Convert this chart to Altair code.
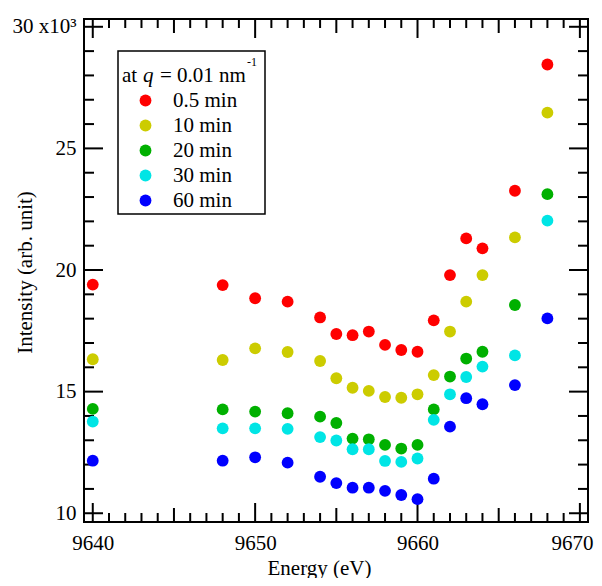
import altair as alt
import pandas as pd

# ---- data (intensity in units of 10^3) ----
energy = [9640, 9648, 9650, 9652, 9654, 9655, 9656, 9657, 9658, 9659, 9660,
          9661, 9662, 9663, 9664, 9666, 9668]
t_05 = [19.40, 19.38, 18.84, 18.70, 18.05, 17.37, 17.32, 17.47, 16.92, 16.71, 16.64,
        17.93, 19.79, 21.30, 20.89, 23.26, 28.45]
t_10 = [16.33, 16.30, 16.78, 16.63, 16.26, 15.55, 15.16, 15.03, 14.78, 14.75, 14.89,
        15.68, 17.47, 18.70, 19.79, 21.34, 26.47]
t_20 = [14.29, 14.27, 14.18, 14.11, 13.97, 13.71, 13.07, 13.04, 12.81, 12.66, 12.81,
        14.27, 15.62, 16.36, 16.64, 18.56, 23.12]
t_30 = [13.77, 13.49, 13.49, 13.47, 13.13, 12.99, 12.63, 12.63, 12.15, 12.11, 12.25,
        13.84, 14.89, 15.60, 16.03, 16.49, 22.03]
t_60 = [12.16, 12.16, 12.30, 12.08, 11.50, 11.24, 11.05, 11.05, 10.92, 10.75, 10.58,
        11.42, 13.56, 14.73, 14.48, 15.27, 18.01]

series_names = ["0.5 min", "10 min", "20 min", "30 min", "60 min"]
series_colors = ["#ff0000", "#cccc00", "#00b000", "#00e5e5", "#0000ff"]
series_values = [t_05, t_10, t_20, t_30, t_60]

x_major = [9640, 9650, 9660, 9670]
x_mid = [9645, 9655, 9665]
x_minor = [v for v in range(9641, 9670) if v % 5 != 0]
y_major = [10, 15, 20, 25, 30]
y_minor = [v for v in range(11, 30) if v % 5 != 0]

rows = []
for i, (name, vals) in enumerate(zip(series_names, series_values)):
    for e, v in zip(energy, vals):
        rows.append({"energy": e, "intensity": v, "series": name, "k": i})
df = pd.DataFrame(rows)

FONT = "Liberation Serif"
W, H = 504, 503

xscale = alt.Scale(domain=[9639.46, 9670.5], nice=False, zero=False)
yscale = alt.Scale(domain=[9.64, 30.32], nice=False, zero=False)

xaxis = alt.Axis(values=x_major, ticks=False, domain=False, grid=False,
                 labelFont=FONT, labelFontSize=21, labelFontWeight="normal",
                 labelColor="black", labelPadding=10,
                 labelOffset={"condition": {"test": "datum.value == 9670", "value": -8},
                              "value": 0},
                 format="d", title="Energy (eV)", titleFont=FONT, titleFontSize=21,
                 titleFontWeight="normal", titleColor="black",
                 titleX=235, titleY=52, titleBaseline="alphabetic",
                 titleAlign="center")
yaxis = alt.Axis(values=y_major, ticks=False, domain=False, grid=False,
                 labelFont=FONT, labelFontSize=21, labelFontWeight="normal",
                 labelColor="black", labelPadding=8,
                 labelExpr="datum.value == 30 ? '30 x10\u00b3' : datum.label",
                 title="Intensity (arb. unit)", titleFont=FONT, titleFontSize=21,
                 titleFontWeight="normal", titleColor="black",
                 titleX=-59, titleY=253, titleAngle=270, titleAlign="center",
                 titleBaseline="middle")


def xticks(vals, length, top):
    d = pd.DataFrame({"energy": vals})
    if top:
        ys = dict(y=alt.value(0), y2=alt.value(length))
    else:
        ys = dict(y=alt.value(H), y2=alt.value(H - length))
    return alt.Chart(d).mark_rule(color="black", strokeWidth=2).encode(
        x=alt.X("energy:Q", scale=xscale, axis=xaxis), **ys)


def yticks(vals, length, right):
    d = pd.DataFrame({"intensity": vals})
    if right:
        xs = dict(x=alt.value(W), x2=alt.value(W - length))
    else:
        xs = dict(x=alt.value(0), x2=alt.value(length))
    return alt.Chart(d).mark_rule(color="black", strokeWidth=2).encode(
        y=alt.Y("intensity:Q", scale=yscale, axis=yaxis), **xs)


ticks = [
    xticks(x_major, 19, False), xticks(x_mid, 14, False), xticks(x_minor, 9, False),
    xticks(x_major, 19, True), xticks(x_mid, 14, True), xticks(x_minor, 9, True),
    yticks(y_major, 19, False), yticks(y_minor, 10, False),
    yticks(y_major, 19, True), yticks(y_minor, 10, True),
]

one = pd.DataFrame({"a": [0]})

legend_box = alt.Chart(one).mark_rect(fillOpacity=0, stroke="black", strokeWidth=1.5).encode(
    x=alt.value(34), x2=alt.value(181), y=alt.value(32), y2=alt.value(195))

points = alt.Chart(df).mark_circle(size=140, opacity=1).encode(
    x=alt.X("energy:Q", scale=xscale, axis=xaxis),
    y=alt.Y("intensity:Q", scale=yscale, axis=yaxis),
    color=alt.Color("series:N", sort=series_names,
                    scale=alt.Scale(domain=series_names, range=series_colors),
                    legend=alt.Legend(title=None, orient="none",
                                      legendX=41, legendY=71, padding=0,
                                      labelFont=FONT, labelFontSize=21,
                                      labelColor="black",
                                      symbolType="circle", symbolSize=140,
                                      symbolStrokeWidth=0, symbolOffset=10,
                                      labelOffset=17, rowPadding=3)),
    order=alt.Order("k:Q"),
)


def txt(s, x, y, size=21, style="normal"):
    return alt.Chart(one).mark_text(text=s, font=FONT, fontSize=size, fontStyle=style,
                                    align="left", baseline="alphabetic",
                                    color="black").encode(x=alt.value(x), y=alt.value(y))


texts = [
    txt("at", 38, 63),
    txt("q", 59, 63, style="italic"),
    txt("= 0.01 nm", 76, 63),
    txt("-1", 163, 47, size=12),
]

chart = alt.layer(*ticks, legend_box, points, *texts).properties(
    width=W, height=H,
    autosize=alt.AutoSizeParams(type="none"),
    padding={"left": 76, "top": 11, "right": 6, "bottom": 56},
).configure(font=FONT).configure_view(stroke="black", strokeWidth=2)

chart.save("out.html", embed_options={"renderer": "svg", "actions": False})
